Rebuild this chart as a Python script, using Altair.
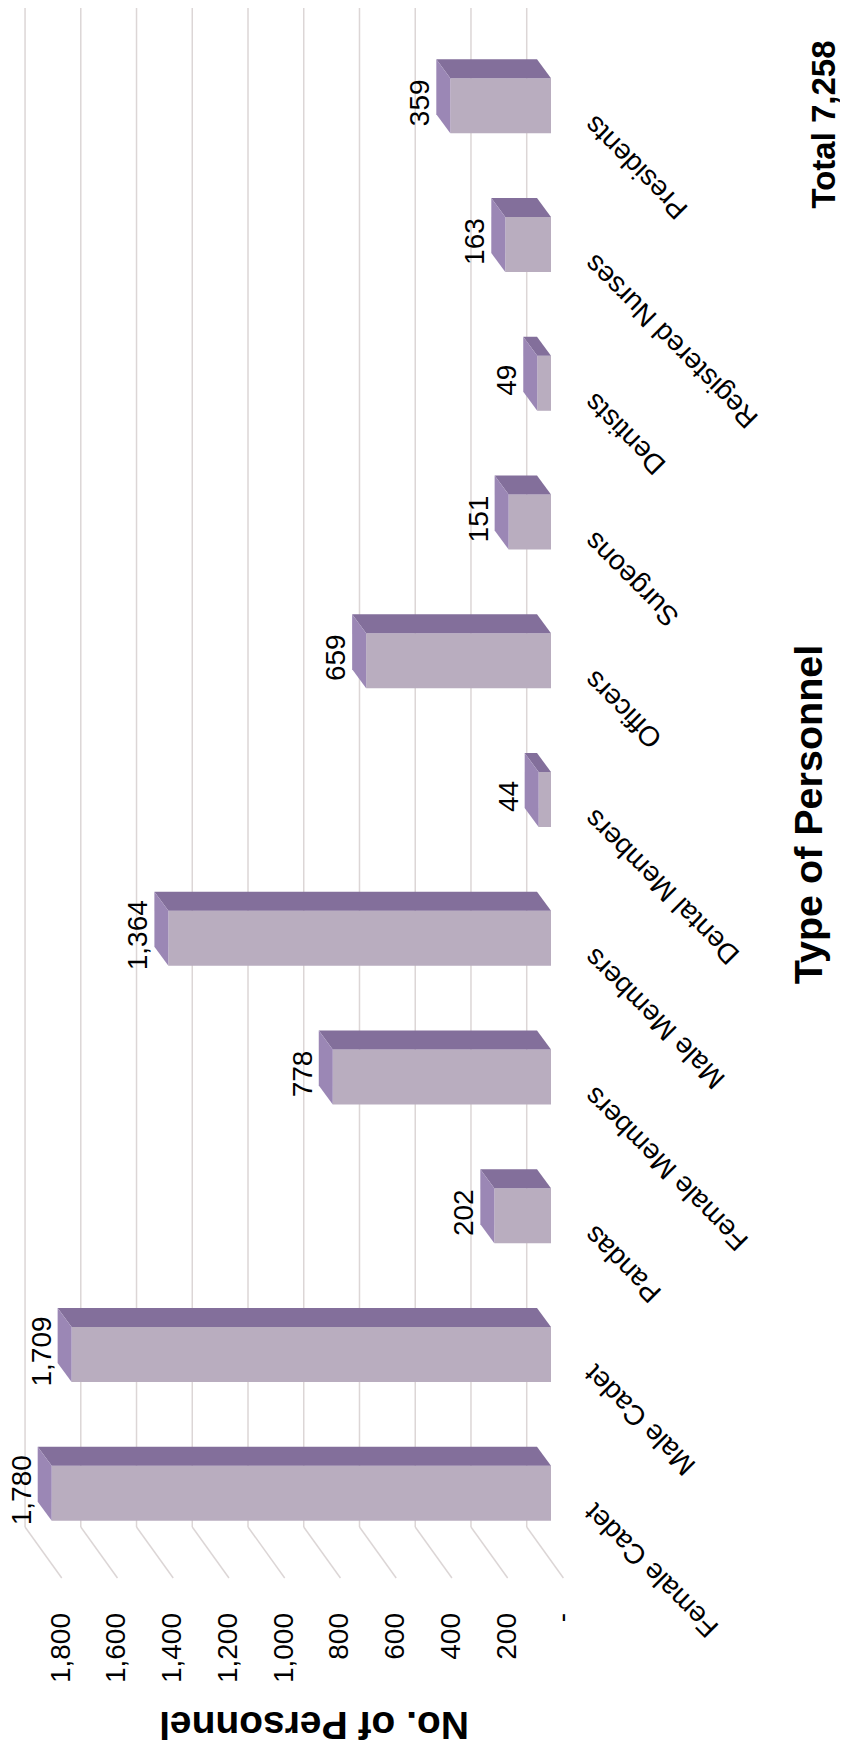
import altair as alt
import pandas as pd

# ---------------- data ----------------
categories = ["Female Cadet", "Male Cadet", "Pandas", "Female Members", "Male Members",
              "Dental Members", "Officers", "Surgeons", "Dentists", "Registered Nurses", "Presidents"]
counts = [1780, 1709, 202, 778, 1364, 44, 659, 151, 49, 163, 359]
tick_values = [0, 200, 400, 600, 800, 1000, 1200, 1400, 1600, 1800]
tick_labels = ["-\u00a0\u00a0", "200", "400", "600", "800", "1,000", "1,200", "1,400", "1,600", "1,800"]
value_title = "No. of Personnel"
category_title = "Type of Personnel"
total_label = "Total 7,258"

# ---------------- style / 3-D geometry (in scale units) ----------------
FONT = "Liberation Sans"
FRONT, TOP, SIDE, GRID = "#B9ADBF", "#836F9B", "#9B87B5", "#DCD6D6"
HALF = 0.1982          # half bar thickness (category units)
DEPTH_X = 49.9         # bar depth along value axis (value units)
DEPTH_Y = 0.137        # bar depth along category axis
WALL_SHIFT, WALL_SCALE = 86.6, 0.9936
WALL_TOP, WALL_BOTTOM = 10.76, -0.2436
FLOOR_DX, FLOOR_DY = -130.8, -0.3676
TICK_LABEL_Y = -0.8635
VALUE_GAP = 25.0
VALUE_DY = 0.0216
CAT_LABEL_X, CAT_LABEL_DY = -139.0, -0.1009

xscale = alt.Scale(domain=[0, 1800], range=[543, 38.1], zero=False, nice=False)
yscale = alt.Scale(domain=[0, 10], range=[1485.2, 97.8], zero=False, nice=False)

pos = list(range(len(categories)))
bars = pd.DataFrame({"cat": categories, "value": counts, "pos": pos})
bars["top"] = bars["pos"] + HALF
bars["bottom"] = bars["pos"] - HALF
bars["base"] = 0
bars["lx"] = bars["value"] + DEPTH_X + VALUE_GAP
bars["ly"] = bars["pos"] + VALUE_DY
bars["cx"] = CAT_LABEL_X
bars["cy"] = bars["pos"] + CAT_LABEL_DY

# top (dark) face: horizontal area between front and back edge
top_rows = []
for c, v, p in zip(categories, counts, pos):
    top_rows.append({"cat": c, "y": p + HALF, "xl": v, "xr": 0})
    top_rows.append({"cat": c, "y": p + HALF + DEPTH_Y, "xl": v + DEPTH_X, "xr": DEPTH_X})
top_df = pd.DataFrame(top_rows)

# side face: vertical area
side_rows = []
for c, v, p in zip(categories, counts, pos):
    side_rows.append({"cat": c, "x": v, "ylo": p - HALF, "yhi": p + HALF})
    side_rows.append({"cat": c, "x": v + DEPTH_X, "ylo": p - HALF + DEPTH_Y, "yhi": p + HALF + DEPTH_Y})
side_df = pd.DataFrame(side_rows)

grid = pd.DataFrame({"v": tick_values, "label": tick_labels})
grid["u"] = WALL_SHIFT + WALL_SCALE * grid["v"]
grid["uf"] = grid["u"] + FLOOR_DX
grid["ytop"] = WALL_TOP
grid["ybot"] = WALL_BOTTOM
grid["yfront"] = WALL_BOTTOM + FLOOR_DY
grid["ylab"] = TICK_LABEL_Y

wall = alt.Chart(grid).mark_rule(color=GRID, strokeWidth=1.5).encode(
    x=alt.X("u:Q", scale=xscale, axis=None),
    y=alt.Y("ytop:Q", scale=yscale, axis=None),
    y2="ybot:Q",
)
floor = alt.Chart(grid).mark_rule(color=GRID, strokeWidth=1.5).encode(
    x=alt.X("u:Q", scale=xscale, axis=None),
    x2="uf:Q",
    y=alt.Y("ybot:Q", scale=yscale, axis=None),
    y2="yfront:Q",
)
tick_text = alt.Chart(grid).mark_text(angle=270, align="right", baseline="middle",
                                      font=FONT, fontSize=28, color="#000000").encode(
    x=alt.X("uf:Q", scale=xscale, axis=None),
    y=alt.Y("ylab:Q", scale=yscale, axis=None),
    text="label:N",
)

front = alt.Chart(bars).mark_rect(color=FRONT).encode(
    x=alt.X("value:Q", scale=xscale, axis=None),
    x2="base:Q",
    y=alt.Y("bottom:Q", scale=yscale, axis=None),
    y2="top:Q",
)
top_face = alt.Chart(top_df).mark_area(orient="horizontal", color=TOP).encode(
    y=alt.Y("y:Q", scale=yscale, axis=None),
    x=alt.X("xl:Q", scale=xscale, axis=None, stack=None),
    x2="xr:Q",
    detail="cat:N",
)
side_face = alt.Chart(side_df).mark_area(orient="vertical", color=SIDE).encode(
    x=alt.X("x:Q", scale=xscale, axis=None),
    y=alt.Y("ylo:Q", scale=yscale, axis=None, stack=None),
    y2="yhi:Q",
    detail="cat:N",
)
value_text = alt.Chart(bars).mark_text(angle=270, align="center", baseline="alphabetic",
                                       font=FONT, fontSize=28, color="#000000").encode(
    x=alt.X("lx:Q", scale=xscale, axis=None),
    y=alt.Y("ly:Q", scale=yscale, axis=None),
    text=alt.Text("value:Q", format=","),
)
cat_text = alt.Chart(bars).mark_text(angle=225, align="right", baseline="middle",
                                     font=FONT, fontSize=28, color="#000000").encode(
    x=alt.X("cx:Q", scale=xscale, axis=None),
    y=alt.Y("cy:Q", scale=yscale, axis=None),
    text="cat:N",
)

def title_mark(txt, angle, px, py, size, align="center", baseline="alphabetic"):
    return alt.Chart(pd.DataFrame({"t": [txt]})).mark_text(
        angle=angle, align=align, baseline=baseline, font=FONT, fontSize=size,
        fontWeight="bold", color="#000000").encode(
        x=alt.value(px), y=alt.value(py), text="t:N")

t_value = title_mark(value_title, 180, 306, 1704, 39)
t_cat = title_mark(category_title, 270, 814, 806.5, 39.5)
t_total = title_mark(total_label, 270, 827, 116.5, 33)

chart = alt.layer(
    wall, floor, tick_text, front, top_face, side_face, value_text, cat_text,
    t_value, t_cat, t_total,
).properties(
    width=832, height=1733,
    autosize=alt.AutoSizeParams(type="none"),
    padding={"left": 0, "top": 0, "right": 0, "bottom": 0},
    background="white",
).configure_view(stroke=None)

chart.save("out.html", embed_options={"renderer": "svg", "actions": False})
